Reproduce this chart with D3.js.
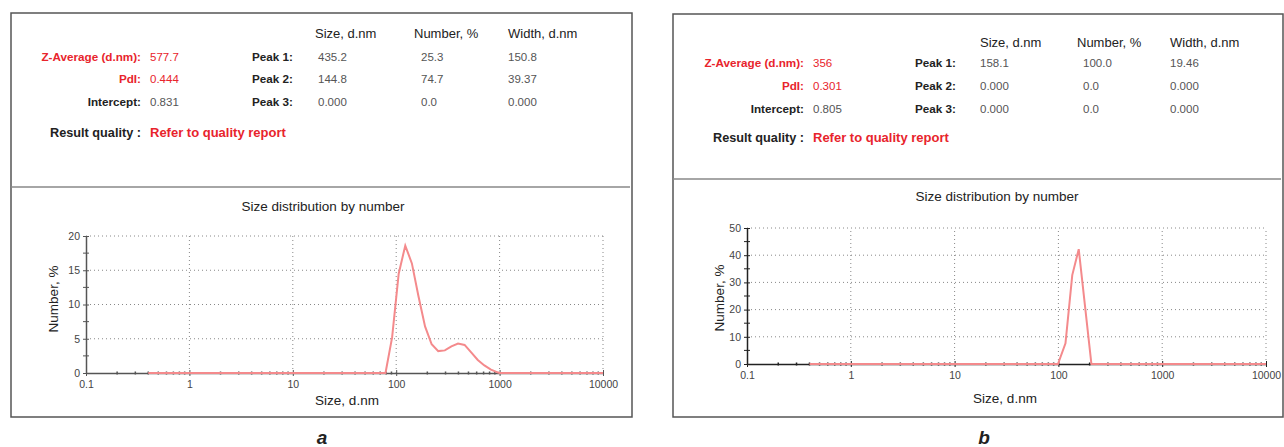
<!DOCTYPE html>
<meta charset="utf-8">
<script src="https://d3js.org/d3.v7.min.js"></script>
<style>
body { margin: 0; background: #fff; }
svg { font-family: "Liberation Sans", Arial, sans-serif; }
</style>
<div id="chart"></div>
<script>

// summary table text
var summaryLabels = ["Z-Average (d.nm):", "PdI:", "Intercept:"];
var peakLabels = ["Peak 1:", "Peak 2:", "Peak 3:"];
var peakColumns = ["Size, d.nm", "Number, %", "Width, d.nm"];

var summaryA = ["577.7", "0.444", "0.831"];
var peaksA = [["435.2", "25.3", "150.8"], ["144.8", "74.7", "39.37"], ["0.000", "0.0", "0.000"]];
var summaryB = ["356", "0.301", "0.805"];
var peaksB = [["158.1", "100.0", "19.46"], ["0.000", "0.0", "0.000"], ["0.000", "0.0", "0.000"]];

// size distribution curves (size in d.nm, number in %)
var sizesA = [0.4, 78.8, 91.3, 105.7, 122.4, 141.8, 164.2, 190.1, 220.2, 255.0, 295.3, 342.0, 396.1, 458.7, 531.2, 615.1, 712.4, 825.0, 955.4, 1000, 10000];
var numberA = [0, 0, 5.2, 14.5, 18.6, 16.0, 11.2, 6.8, 4.2, 3.2, 3.3, 3.9, 4.3, 4.1, 3.0, 1.9, 1.1, 0.5, 0.1, 0, 0];
var sizesB = [0.4, 99, 117, 136, 157, 208, 10000];
var numberB = [0, 0, 7.6, 32.7, 42.2, 0, 0];

var xTicks = [0.1, 1, 10, 100, 1000, 10000];
var yTicksA = [0, 5, 10, 15, 20];
var yTicksB = [0, 10, 20, 30, 40, 50];

var red = "#e8242c", pink = "#f48a8c";

var svg = d3.select("#chart").append("svg")
  .attr("width", 1284).attr("height", 447);

function panel(p) {
  var g = svg.append("g");

  // frame and divider
  g.append("rect").attr("x", p.box[0]).attr("y", p.box[1]).attr("width", p.box[2]).attr("height", p.box[3])
    .attr("fill", "none").attr("stroke", "#555").attr("stroke-width", 1.5);
  g.append("line").attr("x1", p.box[0]).attr("x2", p.box[0] + p.box[2] - 2)
    .attr("y1", p.divider).attr("y2", p.divider).attr("stroke", "#888").attr("stroke-width", 1.5);

  // left summary
  p.summaryLabels.forEach(function(t, i) {
    var c = i < 2 ? red : "#222";
    g.append("text").attr("x", p.labelX).attr("y", p.rows[i] + 4).attr("text-anchor", "end")
      .attr("font-size", 11.7).attr("font-weight", "bold").attr("fill", c).text(t);
    g.append("text").attr("x", p.labelX + 9).attr("y", p.rows[i] + 4)
      .attr("font-size", 11.5).attr("fill", i < 2 ? red : "#555").text(p.summary[i]);
  });
  g.append("text").attr("x", p.labelX).attr("y", p.quality + 4).attr("text-anchor", "end")
    .attr("font-size", 12.7).attr("font-weight", "bold").attr("fill", "#222").text("Result quality :");
  g.append("text").attr("x", p.labelX + 9).attr("y", p.quality + 4)
    .attr("font-size", 13).attr("font-weight", "bold").attr("fill", red).text("Refer to quality report");

  // peaks table
  peakLabels.forEach(function(t, i) {
    g.append("text").attr("x", p.peakX).attr("y", p.rows[i] + 4).attr("text-anchor", "end")
      .attr("font-size", 11.7).attr("font-weight", "bold").attr("fill", "#222").text(t);
    p.peaks[i].forEach(function(v, j) {
      g.append("text").attr("x", p.valX[j]).attr("y", p.rows[i] + 4)
        .attr("font-size", 11.5).attr("fill", "#555").text(v);
    });
  });
  peakColumns.forEach(function(t, j) {
    g.append("text").attr("x", p.colX[j]).attr("y", p.header + 4.5)
      .attr("font-size", 13).attr("fill", "#222").text(t);
  });

  // chart
  var x = d3.scaleLog().domain([0.1, 10000]).range(p.xr);
  var y = d3.scaleLinear().domain(p.ydom).range(p.yr);

  g.append("text").attr("x", p.titleX).attr("y", p.titleY + 4.5).attr("text-anchor", "middle")
    .attr("font-size", 13.5).attr("fill", "#222").text("Size distribution by number");

  // grid
  g.append("g").selectAll("line").data(p.yTicks.slice(1)).join("line")
    .attr("x1", p.xr[0]).attr("x2", p.xr[1]).attr("y1", function(d) { return y(d); }).attr("y2", function(d) { return y(d); })
    .attr("stroke", "#888").attr("stroke-dasharray", "1,3");
  g.append("g").selectAll("line").data(xTicks.slice(1)).join("line")
    .attr("x1", function(d) { return x(d); }).attr("x2", function(d) { return x(d); })
    .attr("y1", p.yr[0]).attr("y2", p.yr[1])
    .attr("stroke", "#888").attr("stroke-dasharray", "1,3");

  // y axis
  var ya = g.append("g").attr("transform", "translate(" + p.xr[0] + ",0)")
    .call(d3.axisLeft(y).tickValues(p.yTicks).tickSize(3).tickSizeOuter(0));
  ya.select(".domain").attr("stroke", p.axis).attr("stroke-width", 1.5);
  ya.selectAll(".tick line").attr("stroke", p.axis).attr("x2", 3).attr("x1", -3);
  ya.selectAll(".tick text").attr("x", -6).attr("font-size", 10.5).attr("fill", "#444").attr("font-family", null);
  // minor y ticks
  var step = p.yTicks[1] - p.yTicks[0];
  g.append("g").selectAll("line").data(p.yTicks.slice(1).map(function(d) { return d - step / 2; })).join("line")
    .attr("x1", p.xr[0] - 3).attr("x2", p.xr[0] + 3).attr("y1", function(d) { return y(d); }).attr("y2", function(d) { return y(d); })
    .attr("stroke", p.axis);

  // x axis
  var xa = g.append("g").attr("transform", "translate(0," + p.yr[0] + ")")
    .call(d3.axisBottom(x).tickValues(xTicks).tickFormat(d3.format("")).tickSize(3).tickSizeOuter(0));
  xa.select(".domain").attr("stroke", p.axis).attr("stroke-width", 1.5);
  xa.selectAll(".tick line").attr("stroke", p.axis).attr("y1", -3).attr("y2", 3);
  xa.selectAll(".tick text").attr("y", 8).attr("font-size", 10.5).attr("fill", "#444").attr("font-family", null);
  // minor x ticks
  var minors = [];
  xTicks.slice(0, -1).forEach(function(d) { for (var k = 2; k < 10; k++) minors.push(d * k); });
  g.append("g").selectAll("line").data(minors).join("line")
    .attr("x1", function(d) { return x(d); }).attr("x2", function(d) { return x(d); })
    .attr("y1", p.yr[0] - 1.5).attr("y2", p.yr[0] + 1.5).attr("stroke", p.axis).attr("stroke-width", 1.5);

  // curve
  var pts = p.sizes.map(function(s, i) { return [s, p.number[i]]; });
  g.append("path").datum(pts)
    .attr("fill", "none").attr("stroke", pink).attr("stroke-width", 2)
    .attr("d", d3.line().x(function(d) { return x(d[0]); }).y(function(d) { return y(d[1]); }));

  // axis titles
  g.append("text").attr("x", p.xLabelX).attr("y", p.xLabelY + 4.5).attr("text-anchor", "middle")
    .attr("font-size", 13.5).attr("fill", "#222").text("Size, d.nm");
  g.append("text").attr("transform", "translate(" + (p.yLabelX + 4.5) + "," + p.yLabelY + ")rotate(-90)")
    .attr("text-anchor", "middle").attr("font-size", 13.5).attr("fill", "#222").text("Number, %");

  // caption
  g.append("text").attr("x", p.capX).attr("y", 444).attr("text-anchor", "middle")
    .attr("font-size", 19).attr("font-weight", "bold").attr("font-style", "italic").attr("fill", "#222").text(p.caption);
}

panel({
  box: [11, 13, 621, 404], divider: 187,
  summaryLabels: summaryLabels, summary: summaryA, peaks: peaksA,
  labelX: 141, rows: [57, 79, 102], quality: 133,
  peakX: 293, header: 33, colX: [315, 414, 508], valX: [318, 421, 508],
  xr: [86, 603], yr: [373, 236], ydom: [0, 20], yTicks: yTicksA, axis: "#555",
  sizes: sizesA, number: numberA,
  titleX: 323, titleY: 206, xLabelX: 347, xLabelY: 400, yLabelX: 53, yLabelY: 299,
  caption: "a", capX: 322
});

panel({
  box: [673, 14, 610, 403], divider: 179,
  summaryLabels: summaryLabels, summary: summaryB, peaks: peaksB,
  labelX: 804, rows: [63, 86, 109], quality: 138,
  peakX: 956, header: 42, colX: [980, 1077, 1170], valX: [980, 1083, 1170],
  xr: [747, 1266], yr: [364, 228], ydom: [0, 50], yTicks: yTicksB, axis: "#222",
  sizes: sizesB, number: numberB,
  titleX: 997, titleY: 196, xLabelX: 1005, xLabelY: 398, yLabelX: 719, yLabelY: 298,
  caption: "b", capX: 984
});

</script>
